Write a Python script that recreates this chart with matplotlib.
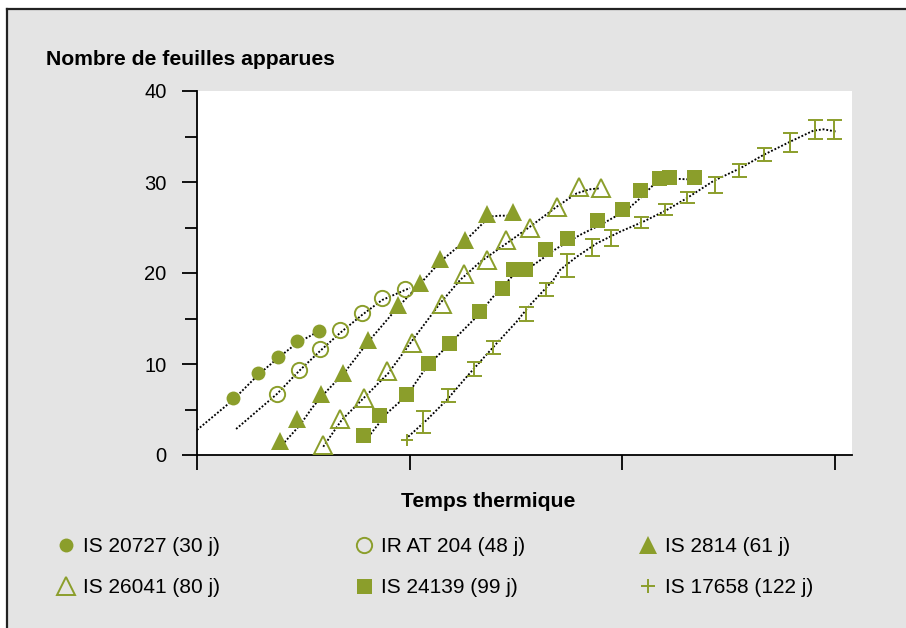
import matplotlib
matplotlib.use("Agg")
import matplotlib.pyplot as plt
from matplotlib.lines import Line2D
from matplotlib.patches import Rectangle

plt.rcParams['font.family'] = ['Liberation Sans', 'DejaVu Sans']

olive = '#8b9e2b'
gris = '#e4e4e4'

# Donnees (temps thermique en unites de graduation)
labels = ['IS 20727 (30 j)', 'IR AT 204 (48 j)', 'IS 2814 (61 j)',
          'IS 26041 (80 j)', 'IS 24139 (99 j)', 'IS 17658 (122 j)']

circ_x = [0.171, 0.286, 0.380, 0.471, 0.573]
circ_y = [6.3, 9.0, 10.8, 12.5, 13.6]

ocirc_x = [0.375, 0.480, 0.579, 0.672, 0.775, 0.871, 0.980]
ocirc_y = [6.7, 9.3, 11.6, 13.7, 15.6, 17.3, 18.2]

tri_x = [0.391, 0.469, 0.584, 0.689, 0.803, 0.944, 1.049, 1.145, 1.261, 1.363, 1.488]
tri_y = [1.5, 4.0, 6.7, 9.0, 12.6, 16.5, 18.9, 21.5, 23.6, 26.5, 26.7]

otri_x = [0.592, 0.673, 0.787, 0.896, 1.010, 1.151, 1.257, 1.366, 1.454, 1.567, 1.693, 1.798, 1.900]
otri_y = [1.1, 4.0, 6.3, 9.2, 12.3, 16.6, 19.9, 21.4, 23.6, 24.9, 27.2, 29.5, 29.3]

sq_x = [0.780, 0.858, 0.982, 1.086, 1.188, 1.329, 1.434, 1.489, 1.542, 1.639, 1.740,
        1.884, 1.998, 2.086, 2.175, 2.223, 2.340]
sq_y = [2.2, 4.4, 6.7, 10.1, 12.3, 15.8, 18.4, 20.4, 20.4, 22.6, 23.8,
        25.8, 27.0, 29.1, 30.4, 30.5, 30.6]

eb_x = [0.988, 1.065, 1.183, 1.304, 1.394, 1.548, 1.641, 1.743, 1.860, 1.948, 2.091,
        2.202, 2.304, 2.438, 2.552, 2.670, 2.788, 2.908, 2.996]
eb_y = [1.7, 3.6, 6.5, 9.45, 11.8, 15.5, 18.2, 20.8, 22.8, 23.85, 25.6,
        27.0, 28.3, 29.7, 31.3, 33.0, 34.3, 35.75, 35.75]
eb_err = [0, 1.2, 0.7, 0.73, 0.7, 0.73, 0.73, 1.26, 0.92, 0.88, 0.6,
          0.6, 0.6, 0.86, 0.73, 0.7, 1.04, 1.06, 1.06]

# courbes de tendance (pointilles)
t1_x = [0.0, 0.169, 0.287, 0.381, 0.471, 0.602]
t1_y = [2.75, 6.04, 8.79, 10.66, 12.31, 13.96]
t2_x = [0.184, 0.376, 0.480, 0.579, 0.673, 0.776, 0.871, 0.979, 1.002]
t2_y = [2.86, 6.70, 9.23, 11.43, 13.41, 15.38, 17.03, 18.13, 18.35]
t3_x = [0.40, 0.485, 0.541, 0.588, 0.696, 0.805, 0.946, 1.049, 1.148, 1.261, 1.351, 1.379, 1.426, 1.487]
t3_y = [1.1, 3.3, 5.16, 6.48, 9.12, 12.42, 16.26, 18.79, 21.32, 23.52, 25.6, 26.2, 26.3, 26.3]
t4_x = [0.594, 0.681, 0.775, 0.900, 1.026, 1.144, 1.238, 1.332, 1.457, 1.567, 1.693, 1.787, 1.849, 1.896]
t4_y = [0.91, 3.85, 6.04, 8.98, 13.0, 16.67, 19.23, 21.21, 23.26, 25.09, 27.29, 28.76, 29.2, 29.31]
t5_x = [0.795, 0.893, 0.955, 1.016, 1.081, 1.128, 1.222, 1.316, 1.394, 1.489, 1.583, 1.693,
        1.802, 1.912, 2.022, 2.085, 2.147, 2.210, 2.304, 2.339]
t5_y = [1.65, 4.58, 5.86, 7.51, 9.7, 10.8, 13.0, 15.2, 17.4, 19.78, 20.88, 22.71,
        24.18, 25.46, 26.92, 28.21, 29.67, 30.4, 30.3, 30.3]
t6_x = [0.994, 1.081, 1.175, 1.269, 1.332, 1.410, 1.504, 1.567, 1.677, 1.708, 1.787, 1.881,
        1.991, 2.100, 2.210, 2.304, 2.430, 2.555, 2.665, 2.791, 2.900, 2.948, 3.010]
t6_y = [2.01, 3.85, 6.04, 8.6, 10.25, 12.27, 14.65, 16.48, 19.23, 20.33, 21.79, 23.26,
        24.54, 25.64, 26.92, 28.21, 30.11, 31.5, 32.97, 34.43, 35.64, 35.79, 35.53]

fig = plt.figure(figsize=(9.06, 6.28), dpi=100, facecolor='white')
fig.patches.append(Rectangle((7 / 906, 0), 1, 1 - 9 / 628, transform=fig.transFigure,
                             facecolor=gris, edgecolor='none', zorder=-10))
fig.add_artist(Line2D([7 / 906, 1], [1 - 9 / 628, 1 - 9 / 628], color='#222222', lw=1.6))
fig.add_artist(Line2D([7 / 906, 7 / 906], [0, 1 - 9 / 628], color='#222222', lw=1.6))

ax = fig.add_axes([197 / 906, 1 - 455 / 628, (852 - 197) / 906, (455 - 91) / 628])
ax.set_facecolor('white')

dot = dict(color='black', lw=1.35, ls=(0, (1, 1)), zorder=2)
for tx, ty in [(t1_x, t1_y), (t2_x, t2_y), (t3_x, t3_y), (t4_x, t4_y), (t5_x, t5_y), (t6_x, t6_y)]:
    ax.plot(tx, ty, **dot)

ax.plot(circ_x, circ_y, 'o', ms=10, mfc=olive, mec=olive, mew=0, ls='none', zorder=3)
ax.plot(ocirc_x, ocirc_y, 'o', ms=11, mfc='none', mec=olive, mew=1.4, ls='none', zorder=3)
ax.plot(tri_x, tri_y, '^', ms=13.5, mfc=olive, mec=olive, mew=0, ls='none', zorder=3)
ax.plot(otri_x, otri_y, '^', ms=12.3, mfc='none', mec=olive, mew=1.4, ls='none', zorder=3)
ax.plot(sq_x, sq_y, 's', ms=10.8, mfc=olive, mec=olive, mew=0, ls='none', zorder=3)
ax.errorbar(eb_x[1:], eb_y[1:], yerr=eb_err[1:], fmt='none', ecolor=olive,
            elinewidth=1.4, capsize=5.4, capthick=1.4, zorder=3)
ax.plot(eb_x[:1], eb_y[:1], '+', ms=9, mec=olive, mew=1.4, ls='none', zorder=3)

ax.set_xlim(0, 3.082)
ax.set_ylim(0, 40)
for s in ['top', 'right']:
    ax.spines[s].set_visible(False)
for s in ['left', 'bottom']:
    ax.spines[s].set_linewidth(1.3)
ax.set_xticks([0, 1, 2, 3])
ax.set_xticklabels([])
ax.set_yticks([0, 10, 20, 30, 40])
ax.set_yticks([5, 15, 25, 35], minor=True)
ax.tick_params(axis='x', direction='out', length=10.8, width=1.3)
ax.tick_params(axis='y', which='major', direction='out', length=10.8, width=1.3,
               labelsize=14.5, pad=11)
ax.tick_params(axis='y', which='minor', direction='out', length=8.6, width=1.3)

fig.text(46 / 906, 1 - 65 / 628, 'Nombre de feuilles apparues', fontsize=15.2,
         fontweight='bold', ha='left', va='baseline')
fig.text(488.5 / 906, 1 - 507 / 628, 'Temps thermique', fontsize=15.2,
         fontweight='bold', ha='center', va='baseline')

# legende en trois colonnes
h_circ = Line2D([], [], marker='o', ms=10, mfc=olive, mec=olive, mew=0, ls='none')
h_ocirc = Line2D([], [], marker='o', ms=11, mfc='none', mec=olive, mew=1.4, ls='none')
h_tri = Line2D([], [], marker='^', ms=13.5, mfc=olive, mec=olive, mew=0, ls='none')
h_otri = Line2D([], [], marker='^', ms=12.3, mfc='none', mec=olive, mew=1.4, ls='none')
h_sq = Line2D([], [], marker='s', ms=10.8, mfc=olive, mec=olive, mew=0, ls='none')
h_plus = Line2D([], [], marker='+', ms=10, mec=olive, mew=1.4, ls='none')

cols = [([h_circ, h_otri], [labels[0], labels[3]], 66),
        ([h_ocirc, h_sq], [labels[1], labels[4]], 364),
        ([h_tri, h_plus], [labels[2], labels[5]], 648)]
for hs, ls_, xc in cols:
    leg = fig.legend(hs, ls_, loc='upper left', frameon=False, fontsize=15,
                     handlelength=1.0, handletextpad=0.3, labelspacing=1.05,
                     borderpad=0, borderaxespad=0,
                     bbox_to_anchor=((xc - 10.5) / 906, 1 - 537.5 / 628))

fig.savefig('out.png', dpi=100, facecolor='white')
